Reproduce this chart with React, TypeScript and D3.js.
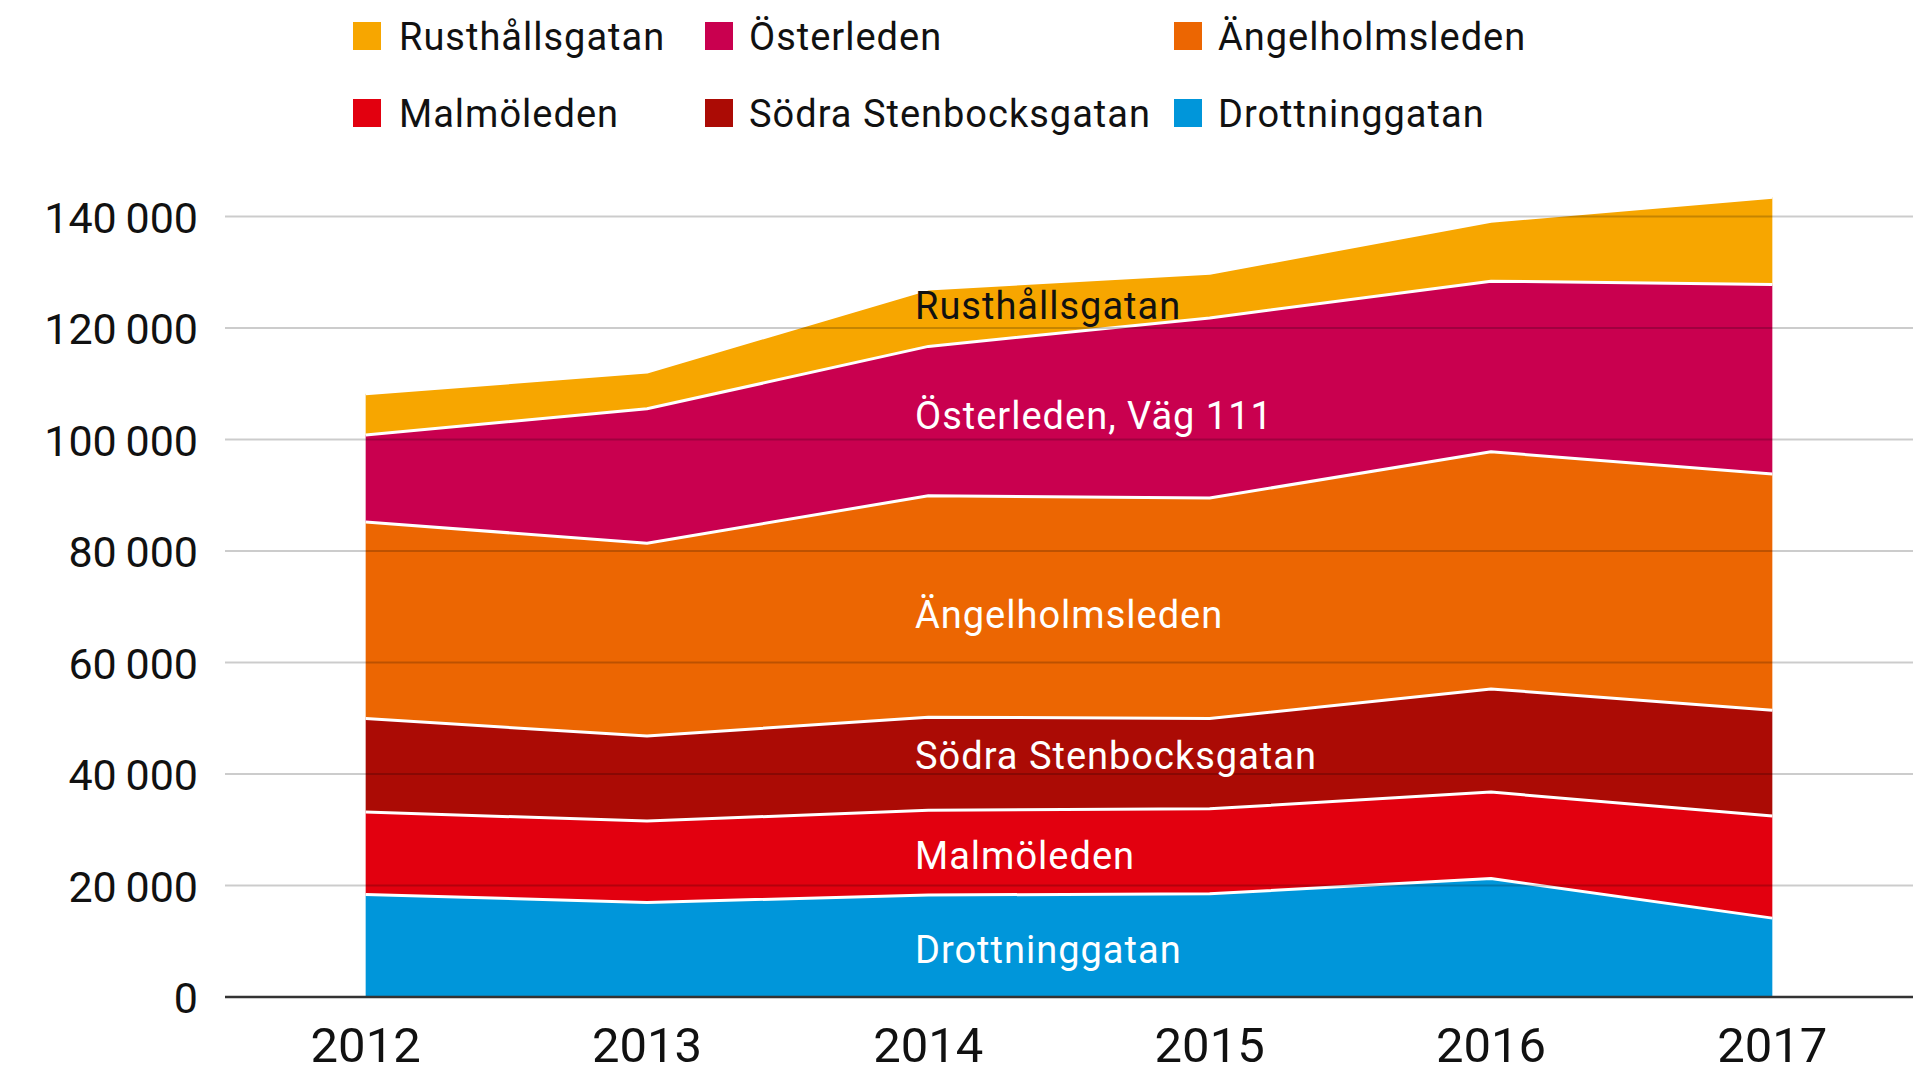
import React from "react";
import * as d3 from "d3";

const years = ["2012", "2013", "2014", "2015", "2016", "2017"];
const seriesNames = [
  "Drottninggatan",
  "Malmöleden",
  "Södra Stenbocksgatan",
  "Ängelholmsleden",
  "Österleden",
  "Rusthållsgatan",
];
const areaLabels = [
  "Drottninggatan",
  "Malmöleden",
  "Södra Stenbocksgatan",
  "Ängelholmsleden",
  "Österleden, Väg 111",
  "Rusthållsgatan",
];
const drottninggatan = [18400, 16950, 18300, 18500, 21250, 14150];
const malmoleden = [14800, 14600, 15200, 15250, 15500, 18300];
const sodraStenbocksgatan = [16750, 15250, 16700, 16200, 18500, 19000];
const angelholmsleden = [35250, 34600, 39700, 39550, 42550, 42350];
const osterleden = [15600, 24100, 26800, 32300, 30600, 34000];
const rusthallsgatan = [7400, 6600, 10300, 8000, 10750, 15650];
const colors = ["#0096da", "#e2000f", "#ab0b05", "#ec6602", "#c9004f", "#f7a600"];
const labelColors = ["#fff", "#fff", "#fff", "#fff", "#fff", "#111"];
const yTicks = [0, 20000, 40000, 60000, 80000, 100000, 120000, 140000];
const legendRows = [
  ["Rusthållsgatan", "Österleden", "Ängelholmsleden"],
  ["Malmöleden", "Södra Stenbocksgatan", "Drottninggatan"],
];

const FONT = "Roboto, 'Noto Sans', sans-serif";

export default function App() {
  const W = 1920;
  const H = 1085;
  const left = 225;
  const right = 1913;
  const x = d3.scalePoint<string>().domain(years).range([left, right]).padding(0.5);
  const y = d3.scaleLinear().domain([0, 140000]).range([997, 216.5]);

  const values = [drottninggatan, malmoleden, sodraStenbocksgatan, angelholmsleden, osterleden, rusthallsgatan];
  const rows = years.map((yr, i) => {
    const r: any = { year: yr };
    seriesNames.forEach((n, k) => (r[n] = values[k][i]));
    return r;
  });
  const stack = d3.stack<any>().keys(seriesNames);
  const layers = stack(rows);

  const area = d3
    .area<any>()
    .x((d) => x(d.data.year) as number)
    .y0((d) => y(d[0]))
    .y1((d) => y(d[1]));
  const topLine = d3
    .line<any>()
    .x((d) => x(d.data.year) as number)
    .y((d) => y(d[1]));

  const fmt = (v: number) => {
    const s = String(v);
    return s.length > 3 ? s.slice(0, s.length - 3) + "\u2009" + s.slice(-3) : s;
  };

  const colOf = (name: string) => colors[seriesNames.indexOf(name)];
  const legendX = [353, 705, 1174];
  const legendY = [22, 99];
  const legendDx = [46, 44, 44];
  const labelNudge = [4, 4, -8, 7, 1, -1];

  const labelX = 915;
  return (
    <svg
      width={W}
      height={H}
      style={{ position: "absolute", left: 0, top: 0, background: "#fff" }}
      fontFamily={FONT}
    >
      {/* legend */}
      {legendRows.map((row, ri) =>
        row.map((name, ci) => (
          <g key={name}>
            <rect x={legendX[ci]} y={legendY[ri]} width={28} height={28} fill={colOf(name)} />
            <text
              x={legendX[ci] + legendDx[ci]}
              y={legendY[ri] + 28}
              fontSize={38}
              letterSpacing={1}
              fill="#111"
            >
              {name}
            </text>
          </g>
        ))
      )}

      {/* areas */}
      {layers.map((L, i) => (
        <path key={"a" + i} d={area(L as any) || ""} fill={colors[i]} />
      ))}
      {layers.map((L, i) => (
        <path
          key={"l" + i}
          d={topLine(L as any) || ""}
          fill="none"
          stroke="#fff"
          strokeWidth={3}
          strokeLinejoin="round"
        />
      ))}

      {/* gridlines */}
      {yTicks
        .filter((t) => t > 0)
        .map((t) => (
          <line key={"g" + t} x1={left} x2={right} y1={y(t)} y2={y(t)} stroke="rgba(0,0,0,0.2)" strokeWidth={2} />
        ))}
      <line x1={left} x2={right} y1={y(0)} y2={y(0)} stroke="#333" strokeWidth={2.5} />

      {/* y tick labels */}
      {yTicks.map((t) => (
        <text key={"t" + t} x={198} y={y(t) + 16} fontSize={43} textAnchor="end" fill="#111">
          {fmt(t)}
        </text>
      ))}

      {/* x tick labels */}
      {years.map((yr) => (
        <text key={yr} x={x(yr)} y={1062} fontSize={49} textAnchor="middle" fill="#111">
          {yr}
        </text>
      ))}

      {/* area labels */}
      {layers.map((L, i) => {
        const a = L[2];
        const b = L[3];
        const mid = ((a[0] + a[1]) / 2 + (b[0] + b[1]) / 2) / 2;
        return (
          <text
            key={"al" + i}
            x={labelX}
            y={y(mid) + 13.5 + labelNudge[i]}
            fontSize={38}
            letterSpacing={1}
            fill={labelColors[i]}
          >
            {areaLabels[i]}
          </text>
        );
      })}
    </svg>
  );
}
